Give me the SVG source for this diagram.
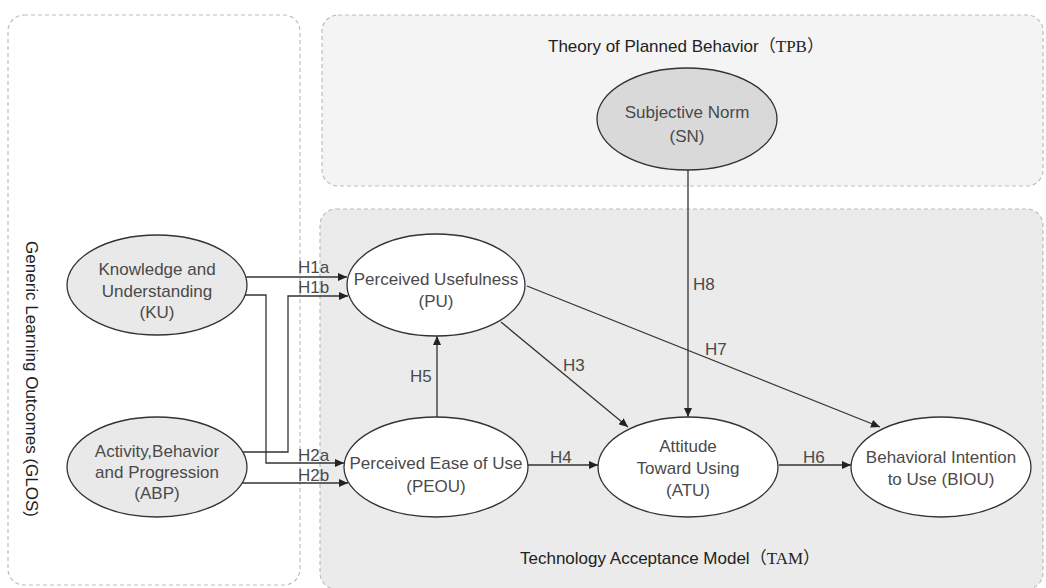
<svg xmlns="http://www.w3.org/2000/svg" width="1046" height="588" viewBox="0 0 1046 588">
<style>
.grp{stroke:#bdbdbd;stroke-width:1.2;stroke-dasharray:4 3}
.node{stroke:#333;stroke-width:1.3}
.t{font-family:"Liberation Sans",Arial,sans-serif;font-size:17px;fill:#4a4a4a;text-anchor:middle}
.lbl{font-family:"Liberation Sans",Arial,sans-serif;font-size:17px;fill:#4a4a4a}
.title{font-family:"Liberation Sans",Arial,sans-serif;font-size:17px;fill:#222}
.ser{font-family:"Liberation Serif","Noto Sans CJK SC",serif}
.ln{fill:none;stroke:#333;stroke-width:1.3}
</style>
<defs>
<marker id="ah" markerWidth="10" markerHeight="8" refX="9" refY="4" orient="auto" markerUnits="userSpaceOnUse">
<path d="M0,0 L9,4 L0,8 Z" fill="#222"/>
</marker>
</defs>
<rect width="1046" height="588" fill="#fff"/>
<g id="groups">
<rect id="glos" class="grp" x="8" y="15" width="292" height="570" rx="16" fill="#fff"/>
<rect id="tpb" class="grp" x="322" y="15" width="721" height="171" rx="16" fill="#f4f4f4"/>
<rect id="tam" class="grp" x="320" y="209" width="723" height="380" rx="16" fill="#ebebeb"/>
<text class="title" transform="translate(26,379) rotate(90)" text-anchor="middle">Generic Learning Outcomes (GLOS)</text>
<text class="title" x="548" y="52">Theory of Planned Behavior<tspan class="ser">（TPB）</tspan></text>
<text class="title" x="520" y="564">Technology Acceptance Model<tspan class="ser">（TAM）</tspan></text>
</g>
<g id="connectors">
<path class="ln" d="M246 277 H347" marker-end="url(#ah)"/>
<path class="ln" d="M243 452 H288 V296 H348" marker-end="url(#ah)"/>
<path class="ln" d="M245 295 H266 V463 H344" marker-end="url(#ah)"/>
<path class="ln" d="M242 483 H348" marker-end="url(#ah)"/>
<path class="ln" d="M437 417 V336" marker-end="url(#ah)"/>
<path class="ln" d="M528 465 H598" marker-end="url(#ah)"/>
<path class="ln" d="M779 465 H851" marker-end="url(#ah)"/>
<path class="ln" d="M688 170 V417" marker-end="url(#ah)"/>
<path class="ln" d="M501 322 L628 427" marker-end="url(#ah)"/>
<path class="ln" d="M527 286 L880 427" marker-end="url(#ah)"/>
<text class="lbl" x="298" y="273">H1a</text>
<text class="lbl" x="298" y="293">H1b</text>
<text class="lbl" x="298" y="461">H2a</text>
<text class="lbl" x="298" y="481">H2b</text>
<text class="lbl" x="410" y="382">H5</text>
<text class="lbl" x="550" y="463">H4</text>
<text class="lbl" x="803" y="463">H6</text>
<text class="lbl" x="563" y="371">H3</text>
<text class="lbl" x="705" y="355">H7</text>
<text class="lbl" x="693" y="290">H8</text>
</g>
<g id="KU">
<ellipse class="node" cx="157" cy="285" rx="90" ry="50" fill="#e9e9e9"/>
<text class="t" x="157" y="275">Knowledge and</text>
<text class="t" x="157" y="297">Understanding</text>
<text class="t" x="157" y="318">(KU)</text>
</g>
<g id="ABP">
<ellipse class="node" cx="157" cy="467" rx="90" ry="50" fill="#e9e9e9"/>
<text class="t" x="157" y="457">Activity,Behavior</text>
<text class="t" x="157" y="478">and Progression</text>
<text class="t" x="157" y="499">(ABP)</text>
</g>
<g id="SN">
<ellipse class="node" cx="687" cy="119" rx="90" ry="51" fill="#d9d9d9"/>
<text class="t" x="687" y="118">Subjective Norm</text>
<text class="t" x="687" y="142">(SN)</text>
</g>
<g id="PU">
<ellipse class="node" cx="436" cy="285" rx="89" ry="51" fill="#fff"/>
<text class="t" x="436" y="285">Perceived Usefulness</text>
<text class="t" x="436" y="307">(PU)</text>
</g>
<g id="PEOU">
<ellipse class="node" cx="436" cy="467" rx="92" ry="50" fill="#fff"/>
<text class="t" x="436" y="469">Perceived Ease of Use</text>
<text class="t" x="436" y="492">(PEOU)</text>
</g>
<g id="ATU">
<ellipse class="node" cx="688" cy="467" rx="90" ry="50" fill="#fff"/>
<text class="t" x="688" y="452">Attitude</text>
<text class="t" x="688" y="474">Toward Using</text>
<text class="t" x="688" y="496">(ATU)</text>
</g>
<g id="BIOU">
<ellipse class="node" cx="941" cy="467" rx="90" ry="50" fill="#fff"/>
<text class="t" x="941" y="463">Behavioral Intention</text>
<text class="t" x="941" y="485">to Use (BIOU)</text>
</g>
</svg>
